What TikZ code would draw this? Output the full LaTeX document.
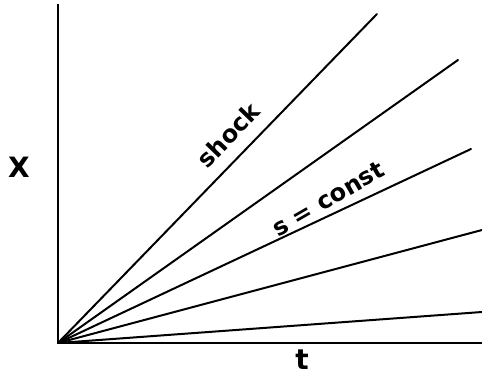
\documentclass[tikz,border=0pt]{standalone}
\usepackage{fontspec}
\setmainfont{DejaVu Sans}
\begin{document}
\begin{tikzpicture}[x=1pt,y=-1pt,
  ray/.style={line width=2pt, line cap=round},
  axis/.style={line width=2.2pt},
  lbl/.style={font=\fontsize{24}{24}\selectfont\bfseries, inner sep=0pt},
  biglbl/.style={font=\fontsize{28}{28}\selectfont\bfseries, inner sep=0pt}]
\useasboundingbox (0,0) rectangle (482,377);
\coordinate (O) at (58,343);
\coordinate (ytop) at (58,4);
\coordinate (xend) at (482,343);
\coordinate (e1) at (377,14);
\coordinate (e2) at (458,60);
\coordinate (e3) at (471,149);
\coordinate (e4) at (482,230);
\coordinate (e5) at (482,312);
\draw[axis] (ytop) -- (O) -- (xend);
\draw[ray] (O) -- (e1);
\draw[ray] (O) -- (e2);
\draw[ray] (O) -- (e3);
\draw[ray] (O) -- (e4);
\draw[ray] (O) -- (e5);
\node[biglbl] (xl) at (19,167) {X};
\node[biglbl] (tl) at (302,360) {t};
\node[lbl, rotate=46] (sh) at (228,135) {shock};
\node[lbl, rotate=30] (sc) at (328,199) {s = const};
\end{tikzpicture}
\end{document}
